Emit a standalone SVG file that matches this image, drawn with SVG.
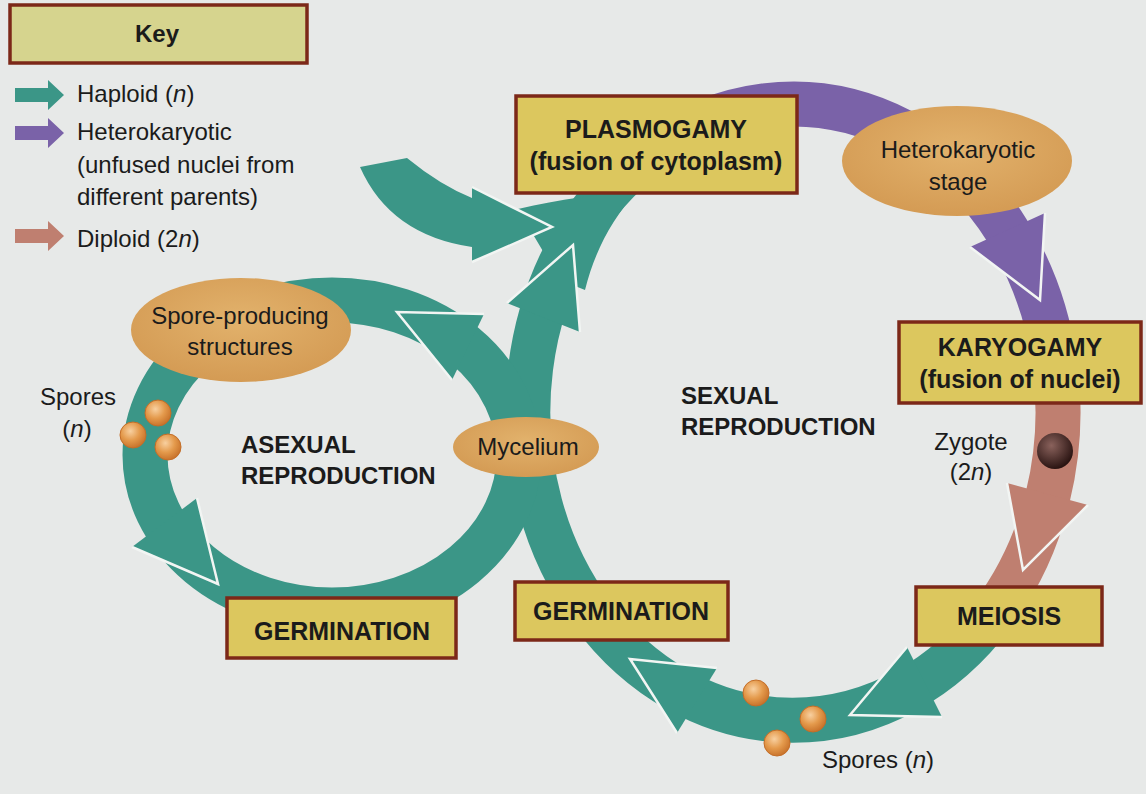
<svg xmlns="http://www.w3.org/2000/svg" width="1146" height="794" viewBox="0 0 1146 794">
<defs>
<radialGradient id="gEll" cx="50%" cy="40%" r="60%"><stop offset="0" stop-color="#e2b26c"/><stop offset="1" stop-color="#d49b54"/></radialGradient>
<radialGradient id="gSpore" cx="40%" cy="35%" r="65%"><stop offset="0" stop-color="#f8d0a0"/><stop offset="0.55" stop-color="#e49a4c"/><stop offset="1" stop-color="#c9742c"/></radialGradient>
<radialGradient id="gZyg" cx="40%" cy="35%" r="65%"><stop offset="0" stop-color="#8a625c"/><stop offset="1" stop-color="#2a1412"/></radialGradient>
<style>
.t{font-family:"Liberation Sans",Arial,sans-serif;fill:#1b1b1b}
.b{font-weight:bold}
.box{fill:#dcc75e;stroke:#7c2818;stroke-width:3.5}
.ell{fill:url(#gEll)}
.teal{fill:#3b9687}
.purple{fill:#7a62a8}
.pink{fill:#bf7f70}
.band{fill:none;stroke-width:45;stroke-linecap:butt}
.wo{fill:none;stroke:#f2f5f3;stroke-width:2.5;stroke-linejoin:miter}
.spore{fill:url(#gSpore);stroke:#c46e28;stroke-width:1}
</style>
</defs>
<rect x="0" y="0" width="1146" height="794" fill="#e7e9e8"/>

<g id="connectors">
  <!-- sexual cycle bands -->
  <path class="band" stroke="#3b9687" d="M 992.4,614.9 A 265 308 0 1 1 649.9,152.9"/>
  <path class="band" stroke="#7a62a8" d="M 649.9,152.9 A 265 308 0 0 1 1054.5,362.2"/>
  <path class="band" stroke="#bf7f70" d="M 1054.5,362.2 A 265 308 0 0 1 992.4,614.9"/>
  <!-- asexual cycle band -->
  <ellipse class="band" stroke="#3b9687" cx="332" cy="455" rx="187" ry="155"/>
  <!-- flare into plasmogamy -->
  <path class="teal" d="M 518,209 C 560,199 600,194 636,192 C 612,220 595,250 585,290 L 560,280 Z"/>
  <!-- incoming partner arrow -->
  <path class="teal" d="M 360,167 L 407,158 Q 440,185 472,198 L 472,187 L 552,227 L 472,262 L 472,247 Q 390,235 360,167 Z"/>
  <polyline class="wo" points="472,187 552,227 472,262"/>
  <!-- arrowheads -->
  <polygon class="teal" points="507,303 573,245 580,332"/>
  <polyline class="wo" points="507,303 573,245 580,332"/>
  <polygon class="purple" points="970,247 1040,300 1045,213"/>
  <polyline class="wo" points="970,247 1040,300 1045,213"/>
  <polygon class="pink" points="1007,483 1023,570 1088,505"/>
  <polyline class="wo" points="1007,483 1023,570 1088,505"/>
  <polygon class="teal" points="907,647 850,715 942,717"/>
  <polyline class="wo" points="907,647 850,715 942,717"/>
  <polygon class="teal" points="717,668 630,659 677,733"/>
  <polyline class="wo" points="717,668 630,659 677,733"/>
  <polygon class="teal" points="484,314 397,312 452,380"/>
  <polyline class="wo" points="484,314 397,312 452,380"/>
  <polygon class="teal" points="132,547 218,584 197,498"/>
  <polyline class="wo" points="132,547 218,584 197,498"/>
</g>

<g id="key">
  <rect x="10" y="5" width="297" height="58" fill="#d6d48e" stroke="#7c2818" stroke-width="3.5"/>
  <text class="t b" x="157" y="42" font-size="24" text-anchor="middle">Key</text>
  <path class="teal" d="M15,88 L48,88 L48,80 L64,95 L48,110 L48,102 L15,102 Z"/>
  <text class="t" x="77" y="102" font-size="24">Haploid (<tspan font-style="italic">n</tspan>)</text>
  <path class="purple" d="M15,126 L48,126 L48,118 L64,133 L48,148 L48,140 L15,140 Z"/>
  <text class="t" x="77" y="140" font-size="24">Heterokaryotic</text>
  <text class="t" x="77" y="173" font-size="24">(unfused nuclei from</text>
  <text class="t" x="77" y="205" font-size="24">different parents)</text>
  <path class="pink" d="M15,229 L48,229 L48,221 L64,236 L48,251 L48,243 L15,243 Z"/>
  <text class="t" x="77" y="247" font-size="24">Diploid (2<tspan font-style="italic">n</tspan>)</text>
</g>

<g id="plasmogamy">
  <rect class="box" x="516" y="96" width="281" height="97"/>
  <text class="t b" x="656" y="138" font-size="25" text-anchor="middle">PLASMOGAMY</text>
  <text class="t b" x="656" y="170" font-size="25" text-anchor="middle">(fusion of cytoplasm)</text>
</g>
<g id="heterokaryotic-stage">
  <ellipse class="ell" cx="957" cy="161" rx="115" ry="55"/>
  <text class="t" x="958" y="158" font-size="24" text-anchor="middle">Heterokaryotic</text>
  <text class="t" x="958" y="190" font-size="24" text-anchor="middle">stage</text>
</g>
<g id="karyogamy">
  <rect class="box" x="899" y="322" width="242" height="81"/>
  <text class="t b" x="1020" y="356" font-size="25" text-anchor="middle">KARYOGAMY</text>
  <text class="t b" x="1020" y="388" font-size="25" text-anchor="middle">(fusion of nuclei)</text>
</g>
<g id="zygote">
  <circle cx="1055" cy="451" r="18" fill="url(#gZyg)"/>
  <text class="t" x="971" y="450" font-size="24" text-anchor="middle">Zygote</text>
  <text class="t" x="971" y="480" font-size="24" text-anchor="middle">(2<tspan font-style="italic">n</tspan>)</text>
</g>
<g id="meiosis">
  <rect class="box" x="916" y="587" width="186" height="58"/>
  <text class="t b" x="1009" y="625" font-size="25" text-anchor="middle">MEIOSIS</text>
</g>
<g id="spores-sexual">
  <circle class="spore" cx="756" cy="693" r="13"/>
  <circle class="spore" cx="813" cy="719" r="13"/>
  <circle class="spore" cx="777" cy="743" r="13"/>
  <text class="t" x="822" y="768" font-size="24">Spores (<tspan font-style="italic">n</tspan>)</text>
</g>
<g id="germination-sexual">
  <rect class="box" x="515" y="582" width="213" height="58"/>
  <text class="t b" x="621" y="620" font-size="25" text-anchor="middle">GERMINATION</text>
</g>
<g id="mycelium">
  <ellipse class="ell" cx="526" cy="447" rx="73" ry="30"/>
  <text class="t" x="528" y="455" font-size="24" text-anchor="middle">Mycelium</text>
</g>
<g id="spore-producing-structures">
  <ellipse class="ell" cx="241" cy="330" rx="110" ry="52"/>
  <text class="t" x="240" y="324" font-size="24" text-anchor="middle">Spore-producing</text>
  <text class="t" x="240" y="355" font-size="24" text-anchor="middle">structures</text>
</g>
<g id="spores-asexual">
  <circle class="spore" cx="158" cy="413" r="13"/>
  <circle class="spore" cx="133" cy="435" r="13"/>
  <circle class="spore" cx="168" cy="447" r="13"/>
  <text class="t" x="78" y="405" font-size="24" text-anchor="middle">Spores</text>
  <text class="t" x="77" y="437" font-size="24" text-anchor="middle">(<tspan font-style="italic">n</tspan>)</text>
</g>
<g id="germination-asexual">
  <rect class="box" x="227" y="598" width="229" height="60"/>
  <text class="t b" x="342" y="640" font-size="25" text-anchor="middle">GERMINATION</text>
</g>
<g id="labels">
  <text class="t b" x="241" y="453" font-size="24">ASEXUAL</text>
  <text class="t b" x="241" y="484" font-size="24">REPRODUCTION</text>
  <text class="t b" x="681" y="404" font-size="24">SEXUAL</text>
  <text class="t b" x="681" y="435" font-size="24">REPRODUCTION</text>
</g>
</svg>
